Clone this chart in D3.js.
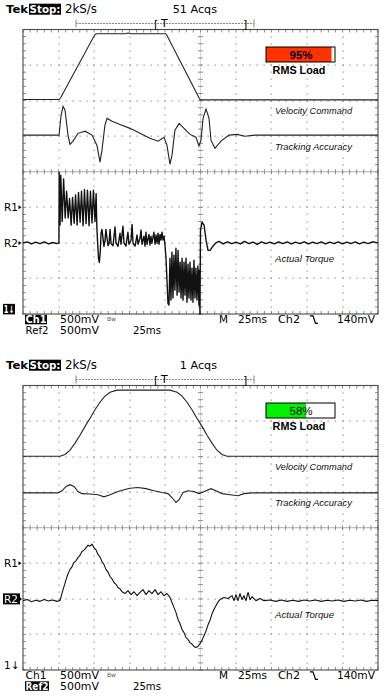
<!DOCTYPE html>
<html><head><meta charset="utf-8">
<script src="https://cdn.jsdelivr.net/npm/d3@7"></script>
<style>body{margin:0;background:#fff}svg{display:block}</style>
</head><body>
<svg id="c" width="384" height="700"></svg>
<script>
// ---------------- data (time in ms, amplitude in divisions) ----------------
const sampleRate = "2kS/s";
const acquisitions = ["51 Acqs", "1 Acqs"];
const rmsLoad = [95, 58];
const loadColors = ["#ff3300", "#00f000"];
const traceNames = ["Velocity Command", "Tracking Accuracy", "Actual Torque"];
const refNames = ["R1", "R2"];
const ch1Labels = ["Ch1", "500mV"];
const ref2Labels = ["Ref2", "500mV", "25ms"];
const timebaseLabels = ["M", "25ms", "Ch2", "140mV"];

const velocity1 = [[0,2.03],[25.4,2.03],[26.5,2.08],[50.5,3.85],[51.6,3.88],[72,3.88],[74,3.9],[76,3.88],[100.5,3.88],[101.3,3.84],[124.2,2.06],[124.8,2.02],[250,2.02]];
const tracking1 = [[0,1.03],[25.4,1.03],[26.8,1.58],[28.2,1.84],[29.6,1.73],[31.7,1.03],[33.1,0.77],[35.2,0.86],[38.7,1.08],[43.7,1.14],[48.6,1.03],[52.1,0.74],[54.2,0.27],[55.6,0.60],[57.7,1.31],[59.2,1.50],[62.7,1.42],[68.3,1.33],[75.4,1.22],[82.4,1.08],[89.4,0.94],[95.1,0.86],[99.3,0.97],[101.4,0.74],[103.5,0.21],[104.9,0.46],[107.0,1.17],[109.9,1.36],[113.4,1.22],[117.6,1.05],[121.8,0.97],[123.9,0.72],[125.3,0.88],[126.8,1.50],[128.9,1.76],[131.0,1.50],[132.4,0.88],[135.2,0.66],[139.4,0.86],[145.1,1.03],[150.7,1.05],[156.3,1.00],[163.3,1.03],[250,1.03]];
const torque1 = [[0,-2.0],[3,-1.97],[6,-2.03],[9,-1.98],[12,-2.02],[15,-1.97],[18,-2.03],[21,-1.99],[24,-2.02],[25.3,-2.0],[25.5,-0.02],
 [26.1,-1.50],[26.6,-0.10],[27.6,-1.40],[28.6,-0.20],[29.7,-1.30],[30.7,-0.55],[31.8,-1.30],[32.8,-0.75],[33.9,-1.50],[34.9,-0.72],[36.0,-1.45],[37.0,-0.65],[38.1,-1.50],[39.1,-0.58],[40.2,-1.42],[41.2,-0.55],[42.3,-1.52],[43.3,-0.50],[44.4,-1.46],[45.4,-0.52],[46.5,-1.52],[47.5,-0.55],[48.6,-1.44],[49.6,-0.52],[50.7,-1.40],[51.5,-0.62],[52.0,-1.55],
 [52.5,-1.95],[53.2,-2.45],[53.8,-2.55],[54.4,-2.25],[55.0,-1.72],[55.6,-1.62],[56.3,-1.85],[57.0,-2.10],[57.7,-1.95],[58.4,-1.62],[59.2,-1.88],[59.9,-2.08],[60.6,-2.02],[61.3,-1.62],[62.0,-2.02],[63.4,-2.08],[64.8,-1.55],[65.5,-2.0],[66.9,-2.1],[68.3,-1.73],[69.0,-2.04],[70.4,-1.53],[71.1,-2.0],[72.5,-2.09],[73.9,-1.70],[74.6,-2.04],[76.1,-1.92],[76.8,-1.48],[77.5,-2.01],[78.9,-2.09],[80.3,-1.78],[81.0,-2.04],[82.4,-1.87],[83.1,-1.64],[83.8,-2.04],[85.2,-1.81],[85.9,-2.09],[86.6,-1.70],[87.3,-2.04],[88.7,-1.76],[89.4,-2.06],[90.1,-1.81],[90.8,-2.01],[92.2,-1.70],[93.0,-2.04],[93.7,-1.78],[94.4,-2.01],[95.1,-1.73],[95.8,-2.04],[96.5,-1.76],[97.2,-1.92],[97.9,-1.70],[98.6,-1.92],[99.3,-1.81],[100.0,-2.06],
 [100.7,-2.43],[101.4,-3.05],[102.1,-3.70],[102.8,-3.75],[103.5,-2.43],[104.2,-3.61],[104.9,-2.26],[105.6,-3.55],[106.3,-2.35],[107.0,-3.33],[107.7,-2.15],[108.5,-3.47],[109.2,-2.21],[109.9,-3.38],[110.6,-2.54],[111.3,-3.55],[112.0,-2.43],[112.7,-3.61],[113.4,-2.54],[114.1,-3.47],[114.8,-2.43],[115.5,-3.67],[116.2,-2.60],[116.9,-3.55],[117.6,-2.54],[118.3,-3.61],[119.0,-2.71],[119.7,-3.67],[120.4,-2.49],[121.1,-3.55],[121.8,-2.71],[122.5,-3.61],[123.2,-2.65],[123.9,-3.75],[124.3,-2.77],[124.6,-4.0],[125.0,-1.64],[126.1,-1.42],[127.5,-1.50],[128.9,-1.92],[130.3,-2.21],[131.7,-2.21],[133.8,-2.09],[135.9,-2.0],
 [138,-1.96],[141,-2.03],[144,-1.97],[147,-2.02],[150,-1.98],[153,-2.03],[156,-1.96],[159,-2.02],[162,-1.98],[165,-2.04],[168,-1.97],[171,-2.02],[174,-1.98],[177,-2.03],[180,-1.97],[183,-2.02],[186,-1.97],[189,-2.03],[192,-1.98],[195,-2.02],[198,-1.97],[201,-2.03],[204,-1.98],[207,-2.02],[210,-1.97],[213,-2.03],[216,-1.98],[219,-2.02],[222,-1.97],[225,-2.03],[228,-1.98],[231,-2.02],[234,-1.97],[237,-2.03],[240,-1.98],[243,-2.02],[246,-1.97],[250,-2.0]];

const velocity2 = [[0,2.01],[26.1,2.01],[29.6,2.06],[33.1,2.18],[36.6,2.38],[40.1,2.6],[43.7,2.85],[47.2,3.08],[50.7,3.32],[54.2,3.53],[57.7,3.7],[61.3,3.81],[66.2,3.87],[103.5,3.87],[108.5,3.81],[112.0,3.7],[115.5,3.53],[119.0,3.32],[122.5,3.08],[126.1,2.85],[129.6,2.6],[133.1,2.38],[136.6,2.18],[140.1,2.06],[143.7,2.01],[250,2.01]];
const tracking2 = [[0,0.98],[24.6,0.98],[27.5,1.04],[30.3,1.16],[33.1,1.21],[35.9,1.16],[38.7,1.02],[41.5,0.96],[47.2,0.95],[52.8,0.93],[57.0,0.87],[61.3,0.93],[66.9,1.02],[71.1,1.07],[75.4,1.11],[81.0,1.13],[86.6,1.10],[92.2,1.04],[97.9,0.99],[102.1,0.96],[104.9,0.85],[107.7,0.71],[109.9,0.79],[112.7,0.99],[116.2,1.04],[120.4,1.02],[123.9,0.96],[126.1,0.99],[128.9,1.04],[132.4,1.10],[135.9,1.04],[140.1,0.96],[145.8,0.93],[151.4,0.90],[155.6,0.96],[161.3,0.98],[166.9,0.98],[250,0.98]];
const torque2 = [[0,-2.05],[3,-2.02],[6,-2.08],[9,-2.04],[12,-2.07],[15,-2.02],[18,-2.06],[21,-2.03],[24,-2.07],[25.4,-2.05],[26.1,-2.05],[27.2,-1.88],[28.2,-1.74],[29.3,-1.60],[30.3,-1.46],[31.7,-1.30],[33.1,-1.17],[34.5,-1.10],[35.9,-0.98],[37.3,-0.93],[38.7,-0.84],[40.1,-0.78],[41.5,-0.67],[43.0,-0.63],[44.4,-0.56],[45.8,-0.49],[47.2,-0.52],[48.6,-0.46],[50.0,-0.56],[51.4,-0.62],[52.8,-0.75],[54.2,-0.82],[55.6,-0.95],[57.0,-1.03],[58.4,-1.17],[59.9,-1.25],[61.3,-1.37],[62.7,-1.44],[64.1,-1.54],[65.5,-1.59],[66.9,-1.68],[68.3,-1.72],[69.7,-1.80],[71.8,-1.85],
 [73.9,-1.77],[76.1,-1.88],[78.2,-1.80],[80.3,-1.91],[82.4,-1.82],[84.5,-1.74],[86.6,-1.88],[88.7,-1.77],[90.8,-1.85],[93.0,-1.74],[95.1,-1.88],[97.2,-1.80],[99.3,-1.91],[101.4,-1.85],[103.5,-1.96],[106.3,-2.24],[107.7,-2.38],[109.2,-2.58],[110.6,-2.70],[112.0,-2.86],[113.4,-2.95],[114.8,-3.09],[116.2,-3.14],[117.6,-3.23],[119.0,-3.27],[120.4,-3.34],[121.8,-3.37],[123.2,-3.34],[124.6,-3.26],[126.1,-3.16],[127.5,-3.03],[128.9,-2.90],[130.3,-2.73],[131.7,-2.60],[133.1,-2.42],[134.5,-2.30],[135.9,-2.19],[137.3,-2.09],[138.7,-2.02],[141.5,-1.96],[144.4,-1.99],
 [147.2,-1.91],[148.6,-2.05],[150.0,-1.88],[151.4,-2.05],[152.8,-1.85],[154.2,-2.02],[155.6,-1.91],[157.0,-2.05],[158.5,-1.82],[159.9,-2.02],[161.3,-1.94],[164.1,-2.05],[166.9,-1.99],[169.7,-2.05],[174,-2.03],[178,-2.07],[182,-2.03],[186,-2.07],[190,-2.04],[194,-2.07],[198,-2.03],[202,-2.06],[206,-2.03],[210,-2.07],[214,-2.04],[218,-2.06],[222,-2.03],[226,-2.07],[230,-2.04],[234,-2.06],[238,-2.03],[242,-2.07],[246,-2.04],[250,-2.05]];

const velocitySeries = [velocity1, velocity2];
const trackingSeries = [tracking1, tracking2];
const torqueSeries = [torque1, torque2];

// ---------------- drawing ----------------
const svg = d3.select("#c");
const FONT = "'DejaVu Sans', sans-serif";
const ARIAL = "'Liberation Sans', Arial, sans-serif";
const L = 23, R = 378, H = 284.5;
const panelTops = [29.5, 385.5];
const x = d3.scaleLinear().domain([0, 250]).range([L, R]);
const majorT = d3.range(0, 250.01, 25);
const minorT = d3.range(0, 250.01, 5);
const majorV = d3.range(-4, 4.01, 1);
const minorV = d3.range(-4, 4.01, 0.2);

function txt(g, s, xx, yy, opt) {
  const o = Object.assign({size: 10, weight: "normal", fill: "#000", len: null, family: FONT}, opt || {});
  const t = g.append("text").attr("x", xx).attr("y", yy).attr("font-family", o.family)
    .attr("font-size", o.size).attr("font-weight", o.weight).attr("fill", o.fill).text(s);
  if (o.len) t.attr("textLength", o.len).attr("lengthAdjust", "spacingAndGlyphs");
  return t;
}

function drawPanel(i) {
  const top = panelTops[i];
  const y = d3.scaleLinear().domain([-4, 4]).range([top + H, top]);
  const g = svg.append("g");
  const grid = g.append("g").attr("fill", "#8a8a8a");

  majorV.filter(v => v !== 0 && Math.abs(v) < 4).forEach(v => {
    grid.selectAll(null).data(minorT.slice(1, -1)).join("rect")
      .attr("x", d => Math.round(x(d)) - 0.5).attr("y", Math.round(y(v)) - 0.5)
      .attr("width", 1.2).attr("height", 1.2);
  });
  majorT.filter(t => t !== 125 && t > 0 && t < 250).forEach(t => {
    grid.selectAll(null).data(minorV.slice(1, -1)).join("rect")
      .attr("x", Math.round(x(t)) - 0.5).attr("y", d => Math.round(y(d)) - 0.5)
      .attr("width", 1.2).attr("height", 1.2);
  });

  const ax = g.append("g").attr("stroke", "#8c8c8c").attr("stroke-width", 1);
  ax.append("line").attr("x1", L).attr("x2", R).attr("y1", y(0)).attr("y2", y(0)).attr("stroke", "#aaa");
  ax.append("line").attr("x1", x(125)).attr("x2", x(125)).attr("y1", top).attr("y2", top + H).attr("stroke", "#aaa").attr("stroke-dasharray", "1,1");
  ax.selectAll(null).data(minorT).join("line")
    .attr("x1", d => x(d)).attr("x2", d => x(d)).attr("y1", y(0) - 2.5).attr("y2", y(0) + 2.5);
  ax.selectAll(null).data(minorV).join("line")
    .attr("y1", d => y(d)).attr("y2", d => y(d)).attr("x1", x(125) - 2.5).attr("x2", x(125) + 2.5);
  ax.selectAll(null).data(minorT).join("line")
    .attr("x1", d => x(d)).attr("x2", d => x(d)).attr("y1", top).attr("y2", top + 3);
  ax.selectAll(null).data(minorT).join("line")
    .attr("x1", d => x(d)).attr("x2", d => x(d)).attr("y1", top + H - 3).attr("y2", top + H);
  ax.selectAll(null).data(minorV).join("line")
    .attr("y1", d => y(d)).attr("y2", d => y(d)).attr("x1", L).attr("x2", L + 3);
  ax.selectAll(null).data(minorV).join("line")
    .attr("y1", d => y(d)).attr("y2", d => y(d)).attr("x1", R - 3).attr("x2", R);
  g.append("rect").attr("x", L).attr("y", top).attr("width", R - L).attr("height", H)
    .attr("fill", "none").attr("stroke", "#4a4a4a").attr("stroke-width", 1.1);

  const line = d3.line().x(d => x(d[0])).y(d => y(d[1]));
  g.append("path").datum(velocitySeries[i]).attr("d", line).attr("fill", "none").attr("stroke", "#222").attr("stroke-width", 1.1);
  g.append("path").datum(trackingSeries[i]).attr("d", line).attr("fill", "none").attr("stroke", "#222").attr("stroke-width", 1.1);
  g.append("path").datum(torqueSeries[i]).attr("d", line).attr("fill", "none").attr("stroke", "#111").attr("stroke-width", i === 0 ? 1.4 : 1.1).attr("stroke-linejoin", "round");

  const labelV = [1.71, 0.70, -2.45];
  traceNames.forEach((n, k) => {
    g.append("text").attr("x", x(177.5)).attr("y", y(labelV[k])).attr("dy", "0.35em")
      .attr("font-family", ARIAL).attr("font-style", "italic").attr("font-size", 9)
      .attr("textLength", k === 2 ? 59 : 77).attr("lengthAdjust", "spacingAndGlyphs")
      .attr("fill", "#111").text(n);
  });

  const bx = d3.scaleLinear().domain([0, 100]).range([266, 335]);
  g.append("rect").attr("x", bx(0)).attr("y", top + 17.5).attr("width", bx(100) - bx(0)).attr("height", 15).attr("fill", "#fff");
  g.append("rect").attr("x", bx(0)).attr("y", top + 17.5).attr("width", bx(rmsLoad[i]) - bx(0)).attr("height", 15).attr("fill", loadColors[i]);
  g.append("rect").attr("x", bx(0)).attr("y", top + 17.5).attr("width", bx(100) - bx(0)).attr("height", 15).attr("fill", "none").attr("stroke", "#000").attr("stroke-width", 1);
  g.append("text").attr("x", 301).attr("y", top + 29.5).attr("text-anchor", "middle")
    .attr("font-family", ARIAL).attr("font-size", 11.5).attr("font-weight", i === 0 ? "bold" : "normal").text(rmsLoad[i] + "%");
  g.append("text").attr("x", 299).attr("y", top + 44.5).attr("text-anchor", "middle")
    .attr("font-family", ARIAL).attr("font-size", 10.8).attr("font-weight", "bold").text("RMS Load");

  refNames.forEach((n, k) => {
    const yy = y(-1 - k);
    if (i === 1 && k === 1) {
      g.append("rect").attr("x", 3).attr("y", yy - 5.5).attr("width", 17).attr("height", 11).attr("fill", "#000");
      txt(g, n, 4, yy + 4, {size: 10.5, fill: "#fff"});
      g.append("path").attr("d", `M19,${yy - 2.5}L22,${yy}L19,${yy + 2.5}Z`).attr("fill", "#000");
    } else {
      txt(g, n, 4, yy + 4, {size: 10.5});
      g.append("path").attr("d", `M18.5,${yy - 2}L21.5,${yy}L18.5,${yy + 2}Z`).attr("fill", "#000");
    }
  });
  const y1 = y(-3.87);
  if (i === 0) {
    g.append("rect").attr("x", 3).attr("y", y1 - 5.5).attr("width", 12).attr("height", 10.5).attr("fill", "#000");
    txt(g, "1↓", 3.8, y1 + 4, {size: 10, weight: "bold", fill: "#fff", len: 10.5});
  } else {
    txt(g, "1↓", 4, y1 + 4, {size: 10.5});
  }

  // header
  const hy = top - 16.3;
  txt(g, "Tek", 6, hy, {size: 11, weight: "bold", len: 22});
  g.append("rect").attr("x", 29).attr("y", hy - 9.5).attr("width", 32).attr("height", 11).attr("fill", "#000");
  txt(g, "Stop:", 29.5, hy, {size: 11, weight: "bold", fill: "#fff", len: 31});
  txt(g, sampleRate, 65, hy, {size: 11.5, len: 32});
  g.append("text").attr("x", 217).attr("y", hy).attr("text-anchor", "end").attr("font-family", FONT).attr("font-size", 11.2).text(acquisitions[i]);
  const ty = top - 6;
  const tb = g.append("g").attr("stroke", "#888");
  tb.append("line").attr("x1", 76).attr("x2", 254).attr("y1", ty).attr("y2", ty).attr("stroke-dasharray", "2,1");
  tb.append("line").attr("x1", 76).attr("x2", 76).attr("y1", ty - 4).attr("y2", ty + 4);
  tb.append("line").attr("x1", 254).attr("x2", 254).attr("y1", ty - 4).attr("y2", ty + 4);
  txt(g, "[", 154, ty + 4, {size: 11});
  txt(g, "T", 161, ty + 3.5, {size: 11});
  txt(g, "]", 243, ty + 4, {size: 11});

  // footer
  const f1 = top + H + 9.3, f2 = top + H + 19.8;
  if (i === 0) g.append("rect").attr("x", 25).attr("y", f1 - 8.5).attr("width", 22).attr("height", 9.5).attr("fill", "#000");
  txt(g, ch1Labels[0], 25.5, f1, {size: 10, weight: i === 0 ? "bold" : "normal", fill: i === 0 ? "#fff" : "#000", len: 21});
  txt(g, ch1Labels[1], 60, f1, {size: 10, len: 39});
  txt(g, "Bw", 107, f1 - 2.5, {size: 6, fill: "#555"});
  if (i === 1) g.append("rect").attr("x", 25).attr("y", f2 - 8.5).attr("width", 24).attr("height", 9.5).attr("fill", "#000");
  txt(g, ref2Labels[0], 25.5, f2, {size: 10, weight: i === 1 ? "bold" : "normal", fill: i === 1 ? "#fff" : "#000", len: 23});
  txt(g, ref2Labels[1], 60, f2, {size: 10, len: 39});
  txt(g, ref2Labels[2], 133, f2, {size: 10, len: 28});
  const fx = [219, 238, 278, 337], fl = [9, 29, 22, 38];
  timebaseLabels.forEach((t, k) => txt(g, t, fx[k], f1, {size: 10, len: fl[k]}));
  g.append("path").attr("d", `M310,${f1 - 7.5}H313L315.5,${f1}H318`).attr("fill", "none").attr("stroke", "#000").attr("stroke-width", 1.2);
}

[0, 1].forEach(drawPanel);
</script>
</body></html>
